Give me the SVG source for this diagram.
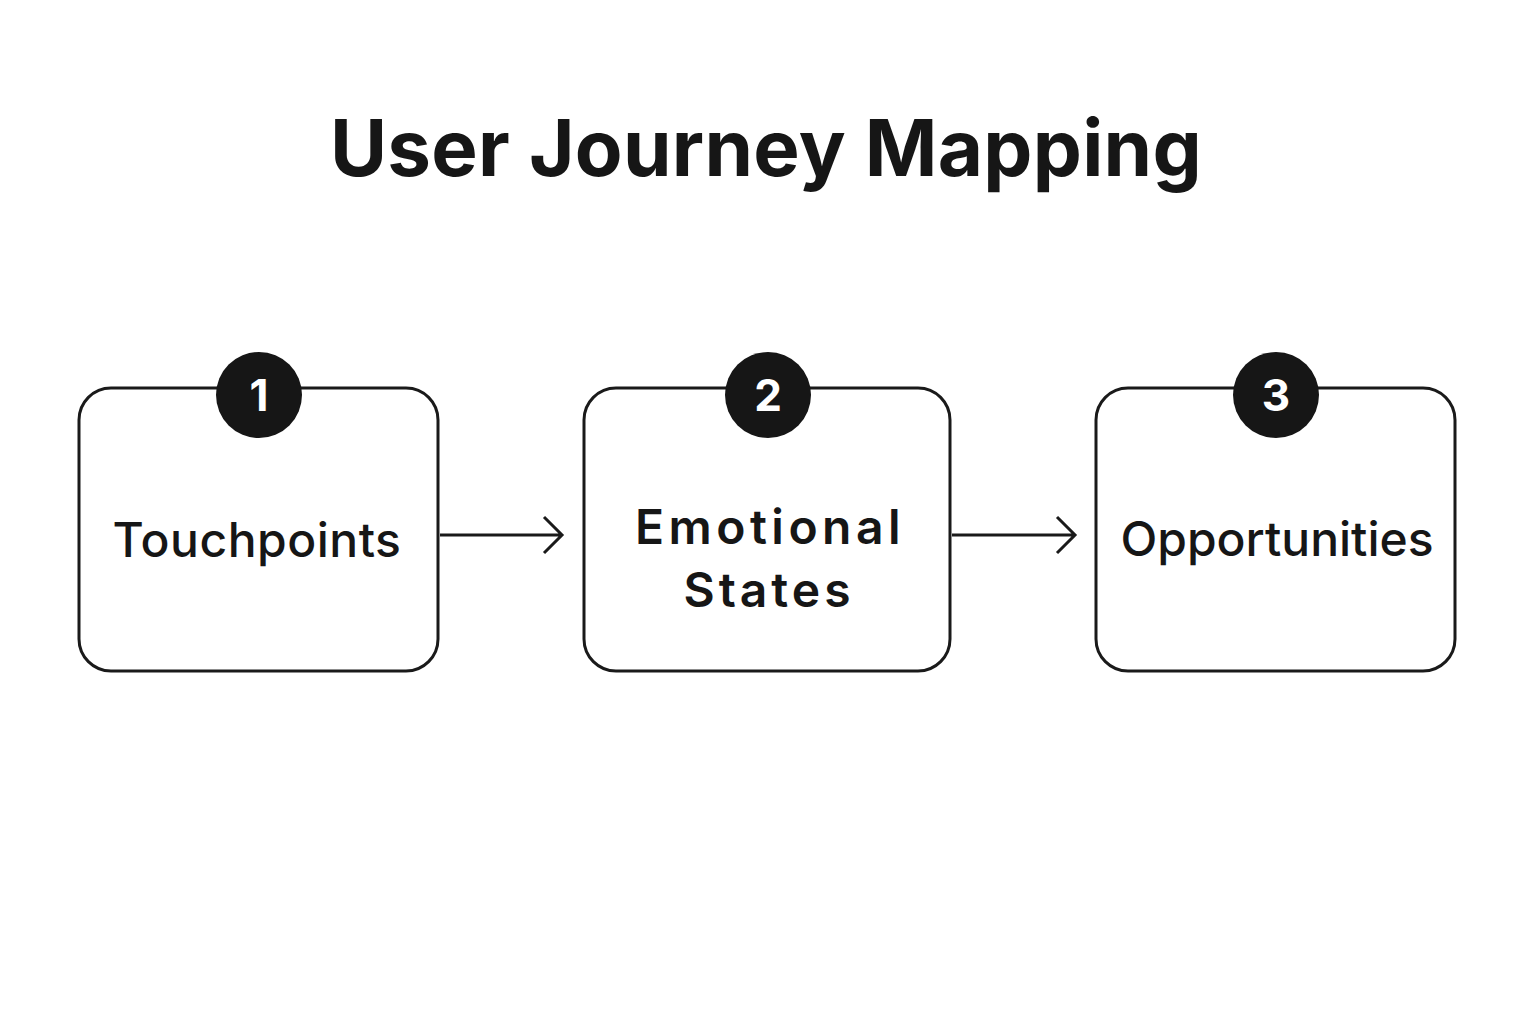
<svg xmlns="http://www.w3.org/2000/svg" width="1536" height="1024" viewBox="0 0 1536 1024">
<style>
.box{fill:#fff;stroke:#1a1a1a;stroke-width:3}
.badge{fill:#161616}
.num{font-family:Inter,"Liberation Sans",sans-serif;font-weight:700;font-size:44px;fill:#fff;text-anchor:middle}
.lbl{font-family:Inter,"Liberation Sans",sans-serif;font-size:48px;fill:#161616;text-anchor:middle}
.conn{stroke:#1a1a1a;stroke-width:3;fill:none}
</style>
<rect width="1536" height="1024" fill="#fff"/>
<text x="766" y="176" font-family="Inter,'Liberation Sans',sans-serif" font-weight="700" font-size="78" letter-spacing="0.3" fill="#161616" text-anchor="middle">User Journey Mapping</text>
<g id="connectors">
<path class="conn" d="M440 535H562M544 517L562 535L544 553"/>
<path class="conn" d="M952 535H1075M1057 517L1075 535L1057 553"/>
</g>
<g id="n1"><rect class="box" x="79" y="388" width="359" height="283" rx="32"/><circle class="badge" cx="259" cy="395" r="43"/><text class="num" x="259" y="411">1</text><text class="lbl" x="257" y="557" font-weight="500" letter-spacing="0.5">Touchpoints</text></g>
<g id="n2"><rect class="box" x="584" y="388" width="366" height="283" rx="32"/><circle class="badge" cx="768" cy="395" r="43"/><text class="num" x="768" y="411">2</text><text class="lbl" x="770" y="544" font-weight="600" font-size="58" letter-spacing="4.5">Emotional</text><text class="lbl" x="769" y="607" font-weight="600" font-size="58" letter-spacing="4">States</text></g>
<g id="n3"><rect class="box" x="1096" y="388" width="359" height="283" rx="32"/><circle class="badge" cx="1276" cy="395" r="43"/><text class="num" x="1276" y="411">3</text><text class="lbl" x="1277" y="556" font-weight="500">Opportunities</text></g>
</svg>
